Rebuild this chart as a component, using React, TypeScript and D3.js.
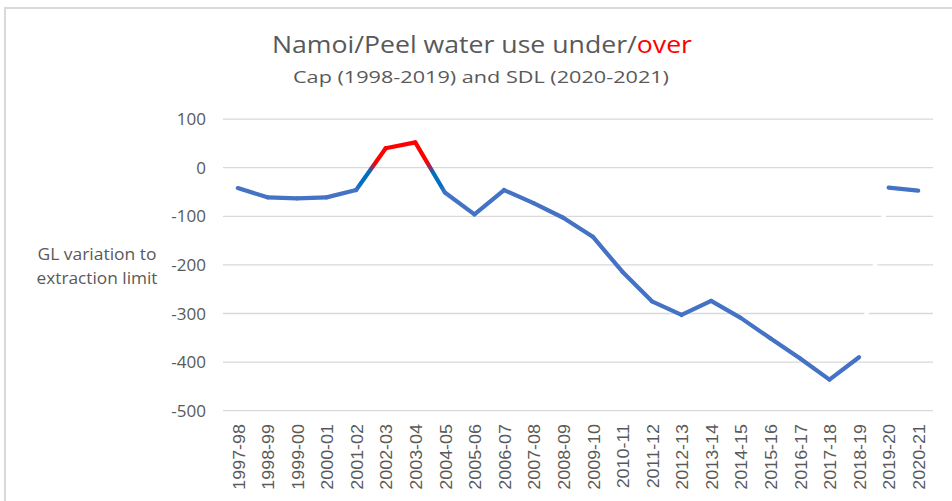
import React from "react";
import * as d3 from "d3";

// water years on the category axis
const years = [
  "1997-98", "1998-99", "1999-00", "2000-01", "2001-02", "2002-03",
  "2003-04", "2004-05", "2005-06", "2006-07", "2007-08", "2008-09",
  "2009-10", "2010-11", "2011-12", "2012-13", "2013-14", "2014-15",
  "2015-16", "2016-17", "2017-18", "2018-19", "2019-20", "2020-21",
];

// GL under (-) / over (+) the extraction limit
const variation = [
  -42, -61, -63, -61, -46, 40, 52, -51, -96, -46, -73, -103,
  -142, -214, -275, -303, -274, -309, -351, -392, -436, -390, -41, -47,
];

const yTicks = [100, 0, -100, -200, -300, -400, -500];

// the Cap period ends at 2018-19, SDL starts 2019-20 (no joining line)
const breakAfter = "2018-19";

const W = 952;
const H = 501;
const BLUE = "#4472C4";
const TEAL = "#0070C0";
const RED = "#FF0000";
const GREY = "#595959";

export default function App() {
  const x = d3.scaleBand<string>().domain(years).range([223, 933]);
  const y = d3.scaleLinear().domain([-500, 100]).range([410.7, 119.1]);
  const cx = (yr: string) => (x(yr) as number) + x.bandwidth() / 2;

  const line = d3
    .line<[string, number]>()
    .x((d) => cx(d[0]))
    .y((d) => y(d[1]));

  const pts: [string, number][] = years.map((yr, i) => [yr, variation[i]]);

  const segs = d3.pairs(pts).map(([a, b], i) => {
    let stroke = BLUE;
    let grad: any = null;
    if (a[0] === breakAfter) stroke = "#ffffff";
    else if (a[1] >= 0 && b[1] >= 0) stroke = RED;
    else if (a[1] < 0 !== b[1] < 0) {
      const t = a[1] / (a[1] - b[1]);
      const id = "seg" + i;
      const neg = a[1] < 0;
      const stops = neg
        ? [
            [0, BLUE], [0.15, TEAL], [t - 0.1, TEAL], [t, "#80306A"],
            [t + 0.12, RED], [1, RED],
          ]
        : [
            [0, RED], [t - 0.12, RED], [t, "#80306A"], [t + 0.1, TEAL],
            [0.85, TEAL], [1, BLUE],
          ];
      grad = { id, stops };
      stroke = `url(#${id})`;
    }
    return { a, b, stroke, grad };
  });

  return (
    <svg
      width={W}
      height={H}
      style={{ position: "absolute", left: 0, top: 0, background: "#fff" }}
    >
      <defs>
        {segs
          .filter((s) => s.grad)
          .map((s) => (
            <linearGradient
              key={s.grad.id}
              id={s.grad.id}
              gradientUnits="userSpaceOnUse"
              x1={cx(s.a[0])}
              y1={y(s.a[1])}
              x2={cx(s.b[0])}
              y2={y(s.b[1])}
            >
              {s.grad.stops.map((st: any, k: number) => (
                <stop key={k} offset={st[0]} stopColor={st[1]} />
              ))}
            </linearGradient>
          ))}
      </defs>

      {/* chart border */}
      <rect x={5} y={8} width={W + 20} height={H + 20} fill="none" stroke="#D9D9D9" strokeWidth={2} />

      {/* title */}
      <g fontFamily="'Open Sans', sans-serif" fill={GREY}>
        <text x={272} y={53} fontSize={23} textLength={420} lengthAdjust="spacingAndGlyphs">
          Namoi/Peel water use under/<tspan fill={RED}>over</tspan>
        </text>
        <text x={293} y={83} fontSize={17} textLength={376} lengthAdjust="spacingAndGlyphs">
          Cap (1998-2019) and SDL (2020-2021)
        </text>
      </g>

      {/* gridlines */}
      <g stroke="#D9D9D9" strokeWidth={1.3}>
        {yTicks.map((t) => (
          <line key={t} x1={223} x2={933} y1={y(t)} y2={y(t)} />
        ))}
      </g>

      {/* y tick labels */}
      <g fontFamily="'Open Sans', sans-serif" fontSize={17} fill={GREY} textAnchor="end">
        {yTicks.map((t) => (
          <text key={t} x={206} y={y(t)} dy="0.36em">
            {t}
          </text>
        ))}
      </g>

      {/* y axis title */}
      <g fontFamily="'Open Sans', sans-serif" fontSize={16} fill={GREY} textAnchor="middle">
        <text x={97} y={260} textLength={119} lengthAdjust="spacingAndGlyphs">GL variation to</text>
        <text x={97} y={284} textLength={121} lengthAdjust="spacingAndGlyphs">extraction limit</text>
      </g>

      {/* x labels */}
      <g fontSize={16} fill={GREY} fontFamily="'Liberation Sans', Arial, sans-serif" textAnchor="end">
        {years.map((yr) => (
          <text
            key={yr}
            transform={`translate(${cx(yr) + 1},424) rotate(-90) scale(1.12,1)`}
            dy="0.36em"
          >
            {yr}
          </text>
        ))}
      </g>

      {/* series: white joining segment first, then coloured segments */}
      <g fill="none" strokeWidth={4.2}>
        {segs
          .filter((s) => s.a[0] === breakAfter)
          .map((s, i) => (
            <path key={"w" + i} d={line([s.a, s.b]) as string} stroke="#fff" strokeWidth={4.5} />
          ))}
        {segs
          .filter((s) => s.a[0] !== breakAfter)
          .map((s, i) => (
            <path key={i} d={line([s.a, s.b]) as string} stroke={s.stroke} strokeLinecap="round" />
          ))}
      </g>
    </svg>
  );
}
